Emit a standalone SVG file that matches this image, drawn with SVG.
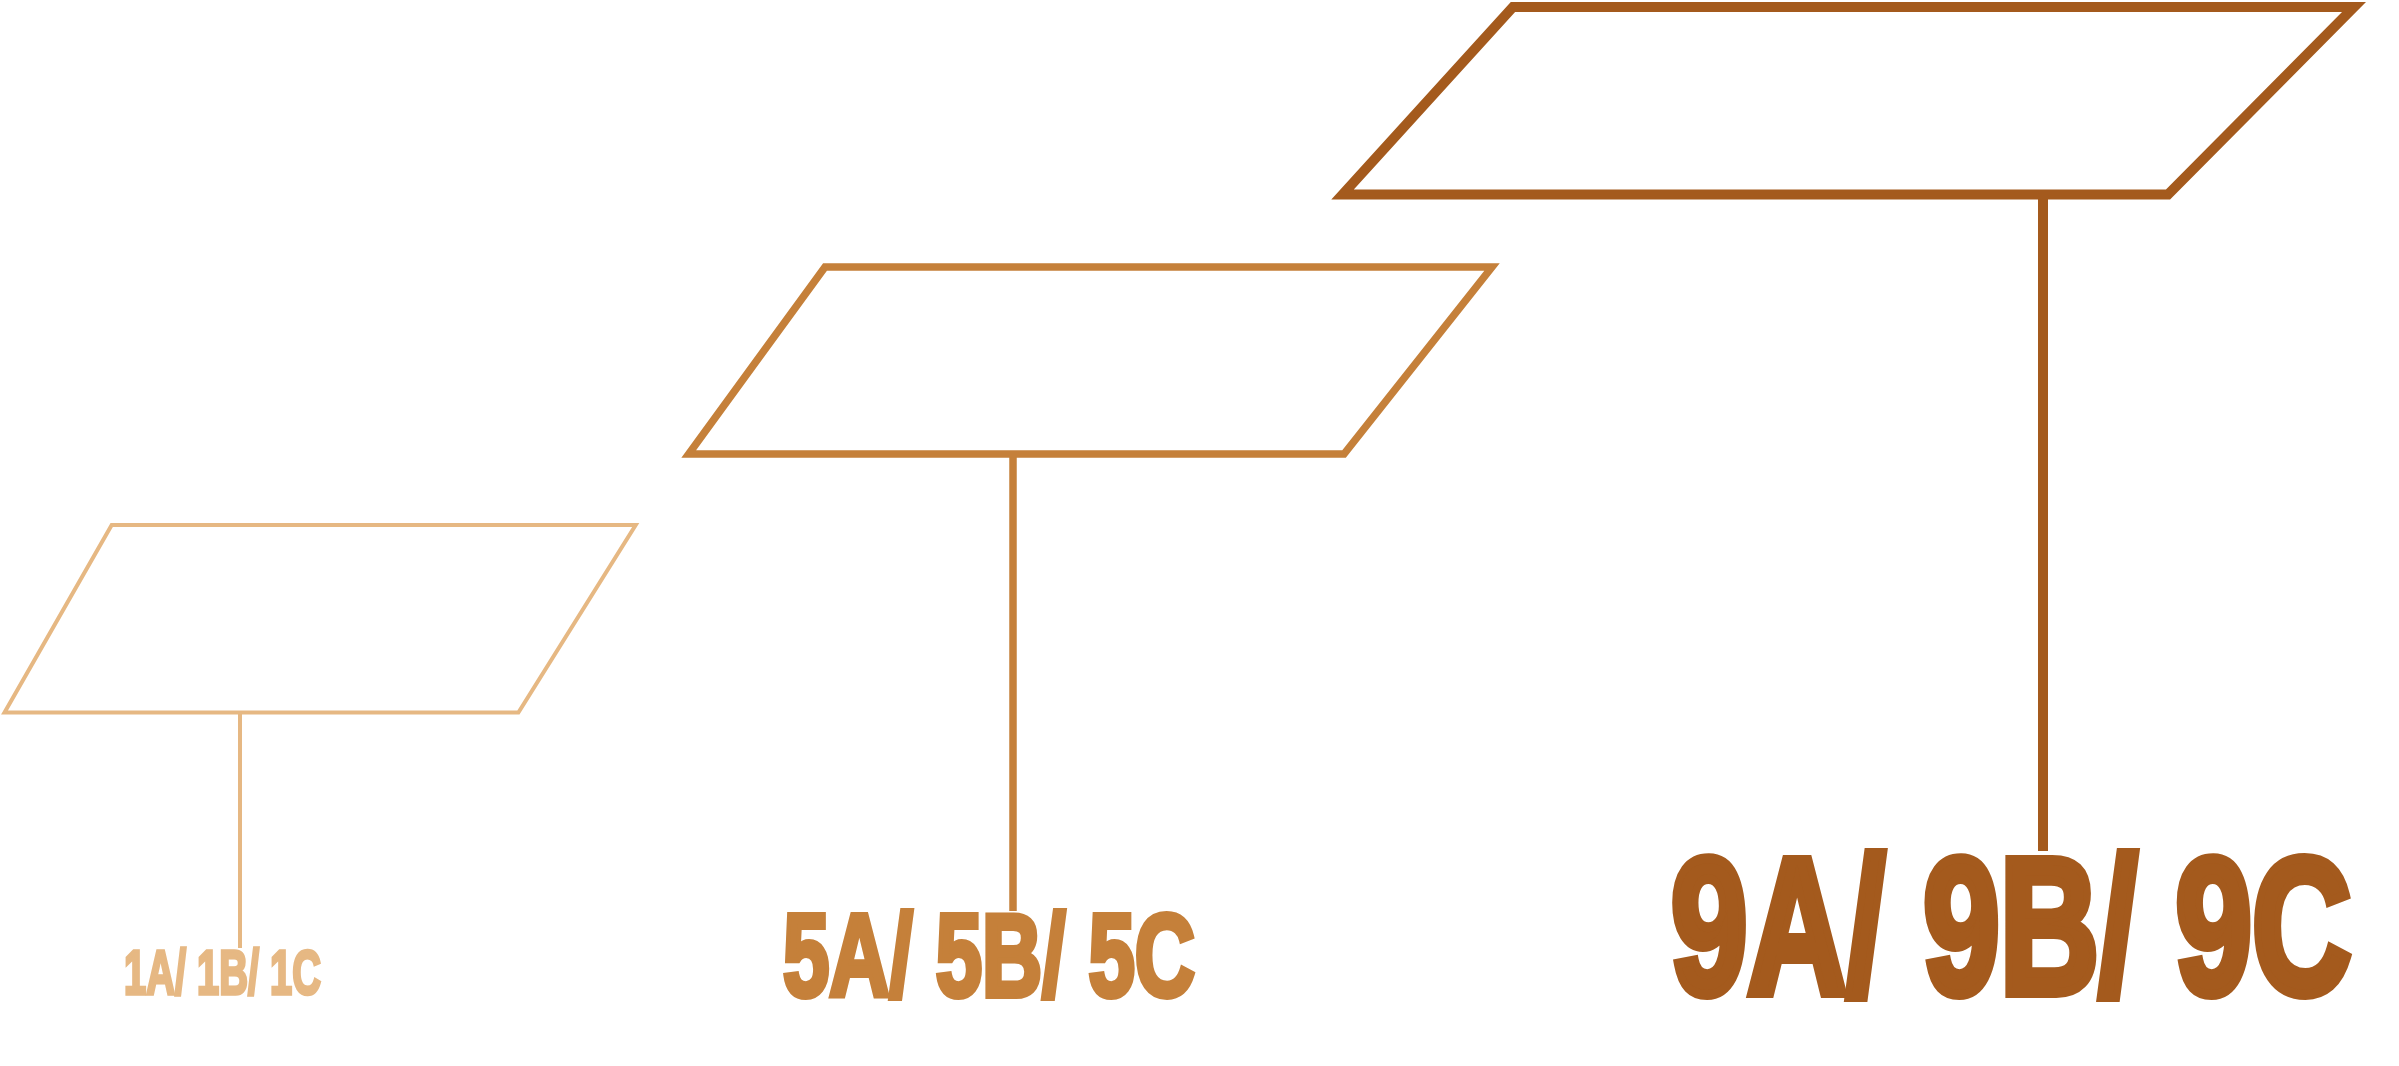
<svg xmlns="http://www.w3.org/2000/svg" width="2399" height="1066" viewBox="0 0 2399 1066">
<style>
.shape{fill:none;stroke-linejoin:miter;stroke-miterlimit:10}
.lbl{font-family:"Liberation Sans",Arial,sans-serif;font-weight:bold;stroke-linejoin:miter;stroke-miterlimit:10}
.t1{fill:#E6B883;stroke:#E6B883}
.t5{fill:#C5803A;stroke:#C5803A}
.t9{fill:#A45A1D;stroke:#A45A1D}
</style>
<rect width="2399" height="1066" fill="#FFFFFF"/>
<g id="connectors">
  <line x1="240" y1="712.5" x2="240" y2="948" stroke="#E6B883" stroke-width="4"/>
  <line x1="1013" y1="454" x2="1013" y2="911" stroke="#C5803A" stroke-width="7.5"/>
  <line x1="2043" y1="194.5" x2="2043" y2="851" stroke="#A45A1D" stroke-width="10"/>
</g>
<g id="node-1">
  <polygon class="shape" points="111.7,525 635.7,525 518.4,712.5 4.5,712.5" stroke="#E6B883" stroke-width="4"/>
  <text class="lbl t1" transform="translate(124,994) scale(0.627,1)" x="0" y="0" font-size="63.5" stroke-width="3.5">1A/ 1B/ 1C</text>
</g>
<g id="node-5">
  <polygon class="shape" points="825,267 1492,267 1344,454 688.7,454" stroke="#C5803A" stroke-width="7.5"/>
  <text class="lbl t5" transform="translate(783,996) scale(0.718,1)" x="0" y="0" font-size="116" stroke-width="6">5A/ 5B/ 5C</text>
</g>
<g id="node-9">
  <polygon class="shape" points="1513,7 2354,7 2168,194.5 1342.6,194.5" stroke="#A45A1D" stroke-width="10"/>
  <text class="lbl t9" transform="translate(1671,993) scale(0.7127,1)" x="0" y="0" font-size="193" stroke-width="10">9A/ 9B/ 9C</text>
</g>
</svg>
